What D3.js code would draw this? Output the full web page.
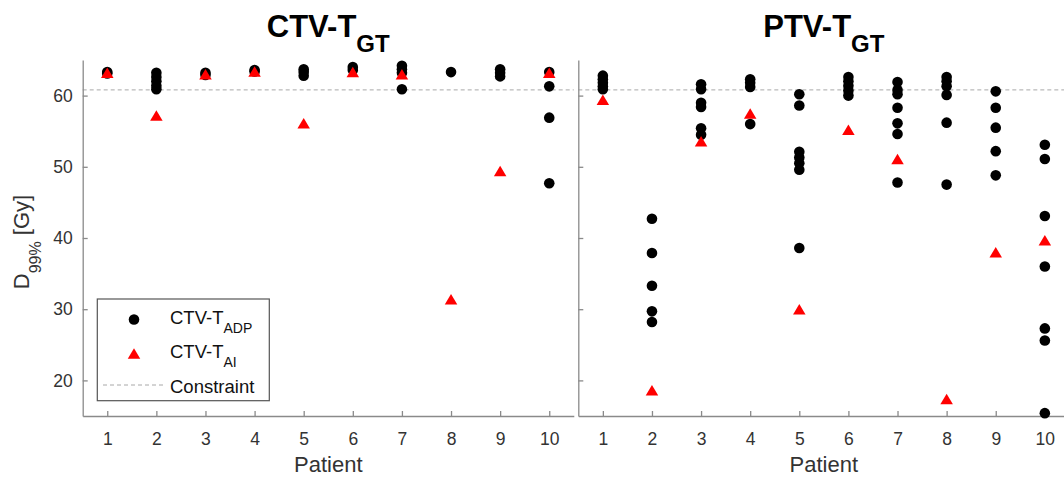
<!DOCTYPE html>
<html>
<head>
<meta charset="utf-8">
<script src="https://cdn.jsdelivr.net/npm/d3@7"></script>
<style>
  html, body { margin: 0; padding: 0; background: #fff; }
  svg { display: block; font-family: "Liberation Sans", Arial, sans-serif; }
</style>
</head>
<body>
<svg id="chart" width="1064" height="478"></svg>
<script>
// ---- data ----
const patients = [1, 2, 3, 4, 5, 6, 7, 8, 9, 10];
const yTicks = [20, 30, 40, 50, 60];
const constraint = 60.8;

const ctvADP = [
  [63.3, 63.1],
  [63.2, 62.6, 62.0, 61.4, 60.9],
  [63.2, 62.9],
  [63.6, 63.4],
  [63.7, 63.3, 62.8],
  [64.0, 63.6],
  [64.2, 63.7, 63.2, 60.9],
  [63.3],
  [63.7, 63.2, 62.7],
  [63.3, 61.3, 56.9, 47.7]
];
const ctvAI = [63.2, 57.2, 63.0, 63.4, 56.1, 63.3, 63.0, 31.4, 49.4, 63.2];

const ptvADP = [
  [62.8, 62.3, 61.8, 61.3, 60.9],
  [42.7, 37.9, 33.3, 29.7, 28.2],
  [61.6, 60.9, 59.0, 58.4, 55.4, 54.5],
  [62.3, 61.8, 61.2, 56.0],
  [60.2, 58.6, 52.1, 51.3, 50.5, 49.6, 38.6],
  [62.6, 62.0, 61.4, 60.7, 60.0],
  [61.9, 60.8, 60.2, 58.3, 56.1, 54.6, 47.8],
  [62.6, 62.0, 61.3, 60.1, 56.2, 47.5],
  [60.6, 58.3, 55.5, 52.2, 48.8],
  [53.1, 51.1, 43.1, 36.0, 27.3, 25.6, 15.4]
];
const ptvAI = [59.4, 18.6, 53.6, 57.5, 30.0, 55.2, 51.1, 17.4, 38.0, 39.7];

const panels = [
  { title: "CTV-T", sub: "GT", adp: ctvADP, ai: ctvAI, x0: 82.7, x1: 573.8, yLabels: true, legend: true },
  { title: "PTV-T", sub: "GT", adp: ptvADP, ai: ptvAI, x0: 578.3, x1: 1069.4, yLabels: false, legend: false }
];

// ---- drawing ----
const svg = d3.select("#chart");
const y = d3.scaleLinear().domain([15, 65]).range([416, 60]);
const axisColor = "#8a8a8a";
const textColor = "#333333";
const triW = 12.5, triH = 10.5;
const triPath = `M0,${-triH/2}L${triW/2},${triH/2}L${-triW/2},${triH/2}Z`;

panels.forEach(p => {
  const x = d3.scaleLinear().domain([0.5, 10.5]).range([p.x0, p.x1]);
  const g = svg.append("g");

  // constraint line
  g.append("line")
    .attr("x1", p.x0).attr("x2", p.x1)
    .attr("y1", y(constraint)).attr("y2", y(constraint))
    .attr("stroke", "#a8a8a8").attr("stroke-width", 1)
    .attr("stroke-dasharray", "4,3");

  // x axis
  const xa = g.append("g").attr("transform", `translate(0,${y(15)})`)
    .call(d3.axisBottom(x).tickValues(patients).tickFormat(d3.format("d"))
      .tickSizeInner(-5).tickSizeOuter(0).tickPadding(17));
  // y axis
  const ya = g.append("g").attr("transform", `translate(${p.x0},0)`)
    .call(d3.axisLeft(y).tickValues(yTicks)
      .tickFormat(p.yLabels ? d3.format("d") : () => "")
      .tickSizeInner(-5).tickSizeOuter(0).tickPadding(10));
  [xa, ya].forEach(a => {
    a.select(".domain").attr("stroke", axisColor).attr("stroke-width", 1.3);
    a.selectAll(".tick line").attr("stroke", axisColor).attr("stroke-width", 1.3);
    a.selectAll(".tick text").attr("fill", textColor).attr("font-size", 17.5)
      .attr("font-family", "Liberation Sans, Arial, sans-serif");
  });

  // ADP points
  const pts = [];
  p.adp.forEach((vals, i) => vals.forEach(v => pts.push({ pat: patients[i], v })));
  g.selectAll("circle.adp").data(pts).enter().append("circle")
    .attr("class", "adp")
    .attr("cx", d => x(d.pat)).attr("cy", d => y(d.v)).attr("r", 5.3)
    .attr("fill", "#000");

  // AI points
  g.selectAll("path.ai").data(p.ai).enter().append("path")
    .attr("class", "ai")
    .attr("d", triPath)
    .attr("transform", (d, i) => `translate(${x(patients[i])},${y(d)})`)
    .attr("fill", "#ff0000");

  // title
  const cx = (p.x0 + p.x1) / 2;
  const t = g.append("text")
    .attr("x", cx).attr("y", 37).attr("text-anchor", "middle")
    .attr("font-weight", "bold").attr("font-size", 31).attr("fill", "#000");
  t.append("tspan").text(p.title);
  t.append("tspan").attr("dy", 15).attr("font-size", 24).text(p.sub);

  // x label
  g.append("text").attr("x", cx).attr("y", 472).attr("text-anchor", "middle")
    .attr("font-size", 22).attr("fill", textColor).text("Patient");

  // legend
  if (p.legend) {
    const lg = g.append("g");
    lg.append("rect").attr("x", 97.3).attr("y", 299).attr("width", 172).attr("height", 101.7)
      .attr("fill", "#fff").attr("stroke", "#555").attr("stroke-width", 1.2);
    lg.append("circle").attr("cx", 134).attr("cy", 319.5).attr("r", 5.3).attr("fill", "#000");
    lg.append("path").attr("d", triPath).attr("transform", "translate(134,353.5)").attr("fill", "#ff0000");
    lg.append("line").attr("x1", 103).attr("x2", 163).attr("y1", 385).attr("y2", 385)
      .attr("stroke", "#a8a8a8").attr("stroke-dasharray", "4,3");
    const items = [["CTV-T", "ADP", 323.5], ["CTV-T", "AI", 357.7], ["Constraint", null, 393.3]];
    items.forEach(([main, sub, by]) => {
      const tt = lg.append("text").attr("x", 170).attr("y", by).attr("font-size", 18.5).attr("fill", "#111");
      tt.append("tspan").text(main);
      if (sub) tt.append("tspan").attr("dy", 9).attr("font-size", 14).text(sub);
    });
  }
});

// y label
const yl = svg.append("text")
  .attr("transform", "translate(28.5,242) rotate(-90)")
  .attr("text-anchor", "middle").attr("font-size", 22).attr("fill", textColor);
yl.append("tspan").text("D");
yl.append("tspan").attr("dy", 12).attr("font-size", 16).text("99%");
yl.append("tspan").attr("dy", -12).text(" [Gy]");
</script>
</body>
</html>
